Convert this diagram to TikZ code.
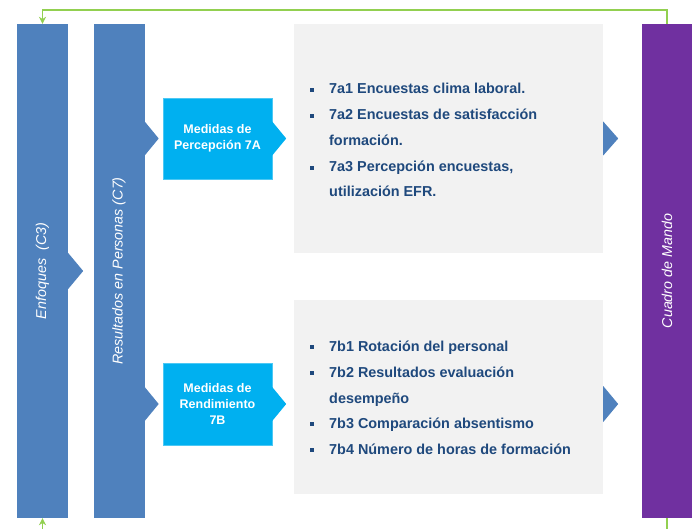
\documentclass[tikz,border=0pt]{standalone}
\usepackage{fontspec}
\setmainfont{Liberation Sans}
\usetikzlibrary{calc,arrows.meta}
\definecolor{barblue}{HTML}{4F81BD}
\definecolor{cmipurple}{HTML}{7030A0}
\definecolor{medcyan}{HTML}{00B0F0}
\definecolor{panelgray}{HTML}{F2F2F2}
\definecolor{loopgreen}{HTML}{92D050}
\definecolor{itemblue}{HTML}{1F497D}
\tikzset{
  bar/.style={rectangle, fill=barblue, minimum width=51pt, minimum height=494pt, inner sep=0pt},
  bartext/.style={rotate=90, text=white, font=\fontsize{14.3}{16}\selectfont\itshape},
  medbox/.style={rectangle, fill=medcyan, draw=medcyan!70!white, minimum width=109pt, minimum height=81pt, align=center, text=white, font=\fontsize{12.5}{16}\selectfont\bfseries},
  panel/.style={rectangle, fill=panelgray, minimum width=309pt, inner sep=0pt},
  item/.style={anchor=base west, inner sep=0pt, text=itemblue, font=\fontsize{14.4}{16}\selectfont\bfseries},
  dot/.style={rectangle, fill=itemblue, minimum size=4pt, inner sep=0pt},
  loopline/.style={draw=loopgreen, line width=1.5pt},
}

\begin{document}
\begin{tikzpicture}[x=1pt, y=-1pt, >={Stealth[length=7pt,width=7pt]}]
\useasboundingbox (0,0) rectangle (693,529);
% columns
\node[bar] (enf) at (42.5,271) {};
\node[bartext] (enfT) at (enf.center) {Enfoques\ \ (C3)};
\node[bar] (res) at (119,271) {};
\node[bartext] (resT) at (res.center) {Resultados en Personas (C7)};
\node[bar, fill=cmipurple, minimum width=50pt] (cmi) at (667,271) {};
\node[bartext] (cmiT) at (cmi.center) {Cuadro de Mando};
% measure boxes
\node[medbox] (med7a) at (217.5,138.5) {Medidas de\\Percepción 7A};
\node[medbox, minimum height=82pt] (med7b) at (217.5,404) {Medidas de\\Rendimiento\\7B};
% panels
\node[panel, minimum height=229pt] (pan7a) at (448.5,138.5) {};
\node[panel, minimum height=194pt] (pan7b) at (448.5,397) {};
% items 7a
\node[dot] (d7a1) at (312,90) {};
\node[item] (t7a1) at (329,94) {7a1 Encuestas clima laboral.};
\node[dot] (d7a2) at (312,116) {};
\node[item] (t7a2) at (329,120) {7a2 Encuestas de satisfacción};
\node[item] (t7a2b) at (329,146) {formación.};
\node[dot] (d7a3) at (312,168) {};
\node[item] (t7a3) at (329,172) {7a3 Percepción encuestas,};
\node[item] (t7a3b) at (329,197) {utilización EFR.};
% items 7b
\node[dot] (d7b1) at (312,347) {};
\node[item] (t7b1) at (329,351) {7b1 Rotación del personal};
\node[dot] (d7b2) at (312,373) {};
\node[item] (t7b2) at (329,377) {7b2 Resultados evaluación};
\node[item] (t7b2b) at (329,403) {desempeño};
\node[dot] (d7b3) at (312,424) {};
\node[item] (t7b3) at (329,428) {7b3 Comparación absentismo};
\node[dot] (d7b4) at (312,450) {};
\node[item] (t7b4) at (329,454) {7b4 Número de horas de formación};
% chevrons
\fill[barblue] ($(enf.east)+(0,-18)$) -- ++(15,18) -- ++(-15,18) -- cycle;
\fill[barblue] ($(res.east |- med7a.east)+(0,-17)$) -- ++(14,17) -- ++(-14,17) -- cycle;
\fill[barblue] ($(res.east |- med7b.east)+(0,-17)$) -- ++(14,17) -- ++(-14,17) -- cycle;
\fill[medcyan] ($(med7a.east)+(0,-17)$) -- ++(14,17) -- ++(-14,17) -- cycle;
\fill[medcyan] ($(med7b.east)+(0,-17)$) -- ++(14,17) -- ++(-14,17) -- cycle;
\fill[barblue] ($(pan7a.east |- med7a.east)+(0,-17)$) -- ++(15,17) -- ++(-15,17) -- cycle;
\fill[barblue] ($(pan7b.east |- med7b.east)+(0,-18)$) -- ++(15,18) -- ++(-15,18) -- cycle;
% feedback loop
\coordinate (loopL) at (42.5,529);
\coordinate (loopR) at (667,529);
\draw[loopline,->] (cmi.north) -- ++(0,-14) -| (enf.north);
\draw[loopline] (cmi.south) -- (loopR);
\draw[loopline,->] (loopL) -- (enf.south);
\end{tikzpicture}
\end{document}
